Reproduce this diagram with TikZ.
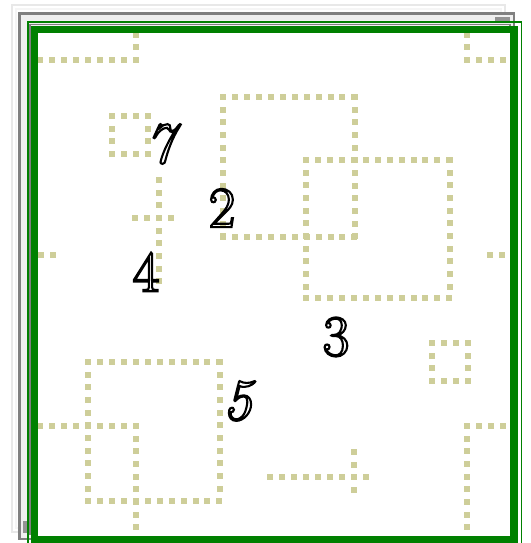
\documentclass[tikz,border=0pt]{standalone}
\usepackage{tikz}
\usetikzlibrary{positioning}
\definecolor{oliva}{RGB}{206,206,153}
\definecolor{verde}{RGB}{0,128,0}
\newcommand{\hueco}[1]{\special{pdf:literal direct 1 Tr 1.2 w}#1\special{pdf:literal direct 0 Tr}}

\begin{document}
\begin{tikzpicture}[x=0.02cm, y=-0.02cm,
        cuth/.style={draw=oliva, line width=3.4pt, line cap=rect, dash pattern=on 0.01pt off 6.79pt},
        cutv/.style={draw=oliva, line width=3.4pt, line cap=rect, dash pattern=on 0.01pt off 7.19pt},
        cifra/.style={inner sep=0pt, font=\fontsize{33}{37}\selectfont}
    ]
        \useasboundingbox (0,0) rectangle (530,543);

        % Marcos apilados
        \draw [draw=gray!18, line width=1.4pt] (12,5) rectangle (505,532);
        \draw [draw=gray!8, line width=1pt] (16,9) rectangle (501,528);
        \draw [draw=gray, line width=1.4pt, fill=gray!12] (19.5,13.5) rectangle (514,539);
        \fill [gray!85] (495,17) rectangle (510,23);
        \fill [gray!85] (23,521) rectangle (27,533);
        \draw [draw=gray, line width=1.1pt] (30,24.5) rectangle (510,534);
        \draw [draw=verde, line width=1.1pt] (28,22) rectangle (521.5,550);
        \draw [draw=verde, line width=4.2pt, fill=white] (34.5,29.5) rectangle (514,539.5);

        % Cortes horizontales
        \draw [cuth] (40,60) -- (136,60) (467,60) -- (503,60);
        \draw [cuth] (112,116) -- (148,116) (112,154) -- (148,154);
        \draw [cuth] (135,218) -- (171,218);
        \draw [cuth] (223,97) -- (355,97) (223,237) -- (355,237);
        \draw [cuth] (306,160) -- (450,160) (306,298) -- (450,298);
        \draw [cuth] (41,255) -- (53,255) (490,255) -- (502,255);
        \draw [cuth] (432,343) -- (468,343) (432,381) -- (468,381);
        \draw [cuth] (88,362) -- (220,362) (88,501) -- (220,501);
        \draw [cuth] (40,426) -- (136,426) (467,426) -- (503,426);
        \draw [cuth] (270,477) -- (366,477);

        % Cortes verticales
        \draw [cutv] (136,60) -- (136,33) (467,60) -- (467,33);
        \draw [cutv] (112,116) -- (112,154) (148,116) -- (148,154);
        \draw [cutv] (159,180) -- (159,282);
        \draw [cutv] (223,97) -- (223,237) (355,97) -- (355,237);
        \draw [cutv] (306,160) -- (306,298) (450,160) -- (450,298);
        \draw [cutv] (432,343) -- (432,381) (468,343) -- (468,381);
        \draw [cutv] (88,362) -- (88,501) (220,362) -- (220,501);
        \draw [cutv] (136,426) -- (136,530) (467,426) -- (467,530);
        \draw [cutv] (354,452) -- (354,502);

        % Marco verde encima de los cortes
        \draw [draw=verde, line width=4.2pt] (34.5,29.5) rectangle (514,539.5);

        % Etiquetas de las regiones
        \node [cifra] (r7) at (163,144) {\hueco{\textit{7}}};
        \node [cifra] (r2) at (222,208) {\hueco{2}};
        \node [cifra] (r4) at (146,272) {\hueco{4}};
        \node [cifra] (r3) at (336,337) {\hueco{3}};
        \node [cifra] (r5) at (239,401) {\hueco{\textit{5}}};
    \end{tikzpicture}
\end{document}
